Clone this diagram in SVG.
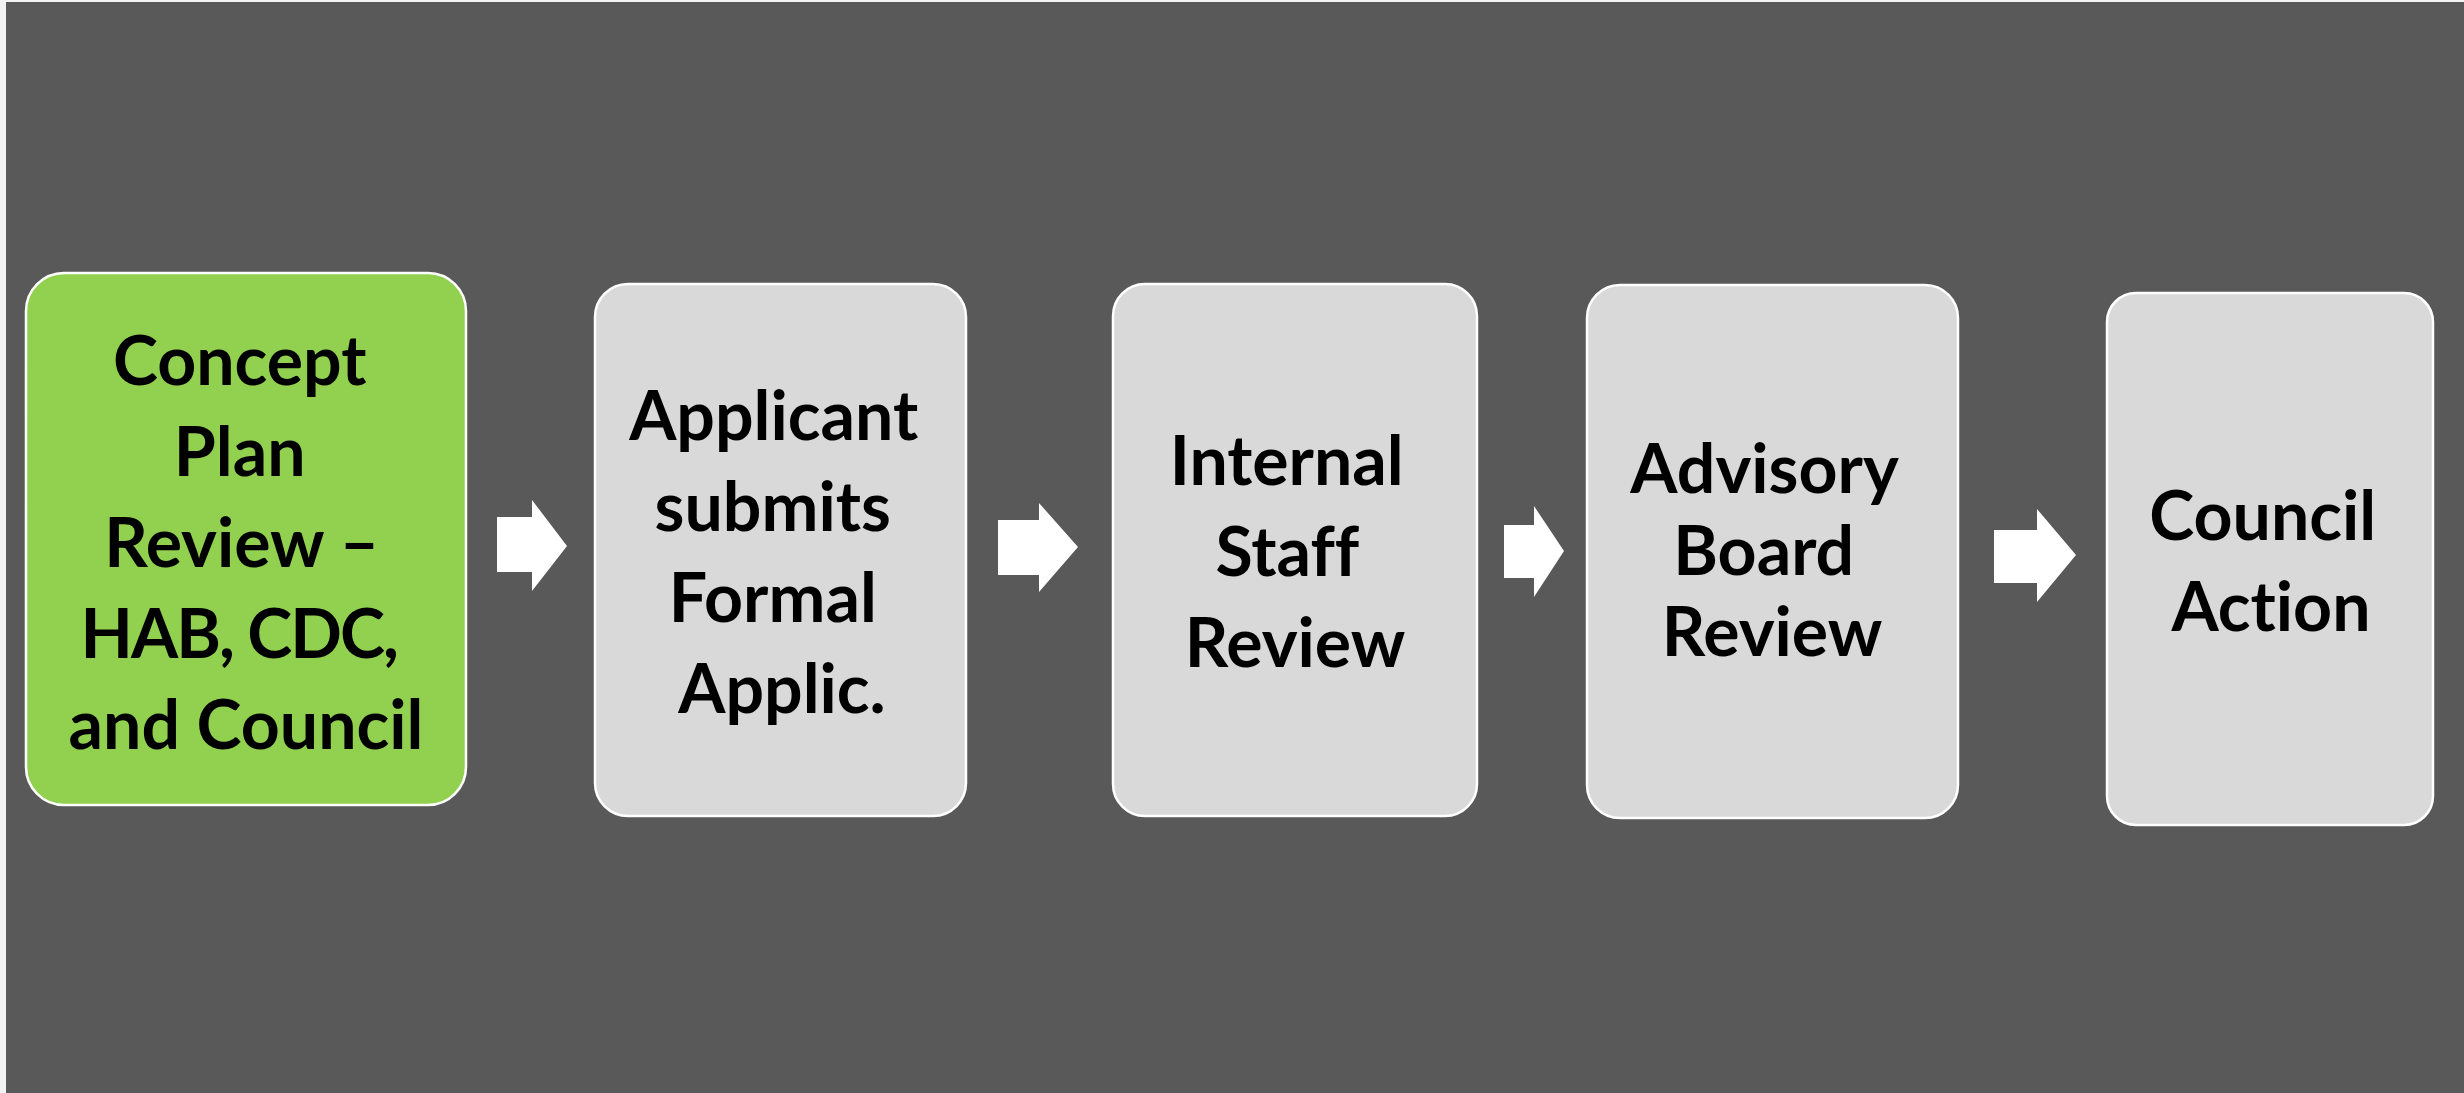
<svg xmlns="http://www.w3.org/2000/svg" width="2464" height="1093" viewBox="0 0 2464 1093">
  <style>
    .step { fill: #d9d9d9; stroke: #ffffff; stroke-width: 2.5; }
    .step.current { fill: #92d050; }
    .label { font-family: Lato, "Liberation Sans", sans-serif; font-weight: 700; font-size: 68px; fill: #000000; text-anchor: middle; font-variant-ligatures: none; }
    .arrow { fill: #ffffff; }
  </style>

  <!-- page and panel -->
  <rect x="0" y="0" width="2464" height="1093" fill="#f2f2f2"/>
  <rect x="6" y="2" width="2458" height="1091" fill="#595959"/>

  <!-- process steps -->
  <g id="step-concept">
    <rect class="step current" x="26" y="273" width="440" height="532" rx="38" ry="38"/>
    <text class="label" x="248">
      <tspan x="248" y="385">Concept</tspan>
      <tspan x="248" y="476">Plan</tspan>
      <tspan x="250" y="567">Review –</tspan>
      <tspan x="247" y="658" letter-spacing="-2">HAB, CDC,</tspan>
      <tspan x="246" y="749">and Council</tspan>
    </text>
  </g>

  <g id="step-application">
    <rect class="step" x="595" y="284" width="371" height="532" rx="33" ry="33"/>
    <text class="label" x="781">
      <tspan x="782" y="440">Applicant</tspan>
      <tspan x="781" y="531">submits</tspan>
      <tspan x="781" y="622">Formal</tspan>
      <tspan x="782" y="713">Applic.</tspan>
    </text>
  </g>

  <g id="step-staff">
    <rect class="step" x="1113" y="284" width="364" height="532" rx="32" ry="32"/>
    <text class="label" x="1295">
      <tspan x="1295" y="485">Internal</tspan>
      <tspan x="1295" y="576">Staff</tspan>
      <tspan x="1295" y="667">Review</tspan>
    </text>
  </g>

  <g id="step-advisory">
    <rect class="step" x="1587" y="285" width="371" height="533" rx="33" ry="33"/>
    <text class="label" x="1772">
      <tspan x="1772" y="493">Advisory</tspan>
      <tspan x="1772" y="575">Board</tspan>
      <tspan x="1772" y="656">Review</tspan>
    </text>
  </g>

  <g id="step-council">
    <rect class="step" x="2107" y="293" width="326" height="532" rx="29" ry="29"/>
    <text class="label" x="2270">
      <tspan x="2271" y="540">Council</tspan>
      <tspan x="2271" y="631">Action</tspan>
    </text>
  </g>

  <!-- block arrows between steps -->
  <g id="connectors">
    <polygon class="arrow" points="497,517 532,517 532,500 567,546 532,591 532,572 497,572"/>
    <polygon class="arrow" points="998,520 1039,520 1039,503 1078,547 1039,592 1039,575 998,575"/>
    <polygon class="arrow" points="1504,525 1534,525 1534,506 1564,551 1534,597 1534,578 1504,578"/>
    <polygon class="arrow" points="1994,530 2037,530 2037,509 2076,555 2037,602 2037,583 1994,583"/>
  </g>
</svg>
